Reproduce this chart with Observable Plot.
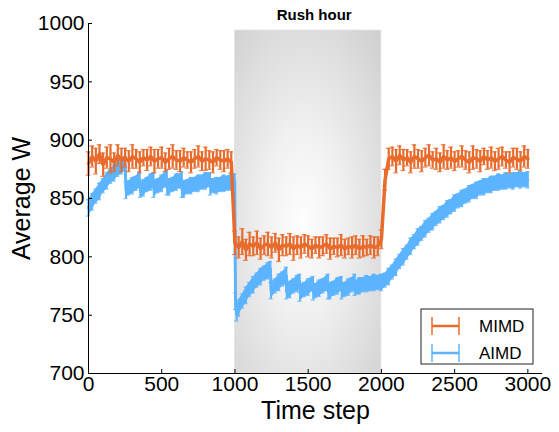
<!DOCTYPE html>
<html>
<head>
<meta charset="utf-8">
<script src="https://cdn.jsdelivr.net/npm/d3@7"></script>
<script src="https://cdn.jsdelivr.net/npm/@observablehq/plot@0.6"></script>
<style>
  html, body { margin: 0; padding: 0; background: white; }
  svg { display: block; }
</style>
</head>
<body>
<div id="chart"></div>
<script>
// ---------- data ----------
const xTicks = [0, 500, 1000, 1500, 2000, 2500, 3000];
const yTicks = [700, 750, 800, 850, 900, 950, 1000];
const seriesNames = ["MIMD", "AIMD"];
const rushLabel = "Rush hour";
const rushStart = 1000;
const rushEnd = 2000;
const rushTop = 994;
const xLabel = "Time step";
const yLabel = "Average W";

// MIMD sampled every 25 time steps (0..3000)
const mimdTime = d3.range(0, 3001, 25);
const mimdMean = [
  880, 886, 882, 888, 879, 885, 884, 881, 887, 883, 885, 882, 886, 884, 881, 885, 883, 886, 882, 884,
  885, 881, 884, 886, 883, 882, 885, 883, 881, 884, 886, 882, 884, 883, 881, 885, 883, 882, 884, 881,
  812, 808, 813, 806, 811, 809, 812, 807, 810, 811, 808, 812, 806, 810, 809, 811, 807, 810, 808, 811,
  809, 807, 810, 808, 809, 811, 807, 809, 808, 810, 807, 809, 808, 810, 807, 809, 808, 810, 808, 809,
  815, 866,
  884, 886, 882, 887, 883, 885, 881, 886, 884, 882, 885, 887, 883, 884, 881, 886, 883, 885, 882, 884,
  886, 883, 881, 885, 884, 882, 886, 883, 885, 882, 884, 886, 883, 881, 885, 884, 882, 886, 884
];
const mimdErr = [
  10, 9, 11, 8, 10, 9, 12, 8, 9, 10, 8, 9, 10, 8, 9, 7, 9, 8, 10, 8,
  9, 8, 9, 10, 8, 9, 8, 7, 9, 8, 9, 8, 10, 8, 9, 7, 8, 9, 8, 9,
  10, 9, 11, 9, 10, 8, 10, 9, 8, 10, 9, 8, 10, 9, 8, 9, 10, 8, 9, 8,
  9, 8, 7, 9, 8, 8, 9, 7, 8, 9, 8, 7, 9, 8, 8, 9, 7, 8, 9, 8,
  8, 9,
  9, 8, 10, 8, 9, 7, 9, 10, 8, 9, 8, 9, 7, 9, 8, 10, 8, 9, 8, 7,
  9, 8, 9, 10, 8, 9, 7, 8, 9, 8, 9, 8, 7, 9, 8, 9, 8, 9, 8
];

// AIMD: [time step, mean, error]
const aimd = [
  [0,842,7],[25,847,7],[50,852,6],[75,856,7],[100,861,6],[125,865,7],[150,869,6],[175,872,7],[200,875,6],[225,878,7],[250,880,6],
  [256,857,7],[275,859,6],[300,861,7],[325,863,6],[350,866,7],
  [354,857,6],[375,859,7],[400,862,6],[425,864,7],[444,866,6],
  [446,858,7],[475,861,6],[500,863,7],[525,866,6],[535,867,7],
  [537,859,6],[550,860,7],[575,862,6],[600,864,7],[625,865,6],[637,866,7],
  [639,857,6],[650,858,7],[675,860,6],[700,861,7],[725,862,6],[750,863,7],[775,864,6],[800,865,7],[830,866,6],
  [832,860,7],[850,861,6],[875,861,7],[900,862,6],[925,863,7],[950,863,6],[975,864,7],[998,865,6],
  [1004,762,7],[1012,751,6],[1025,756,7],[1050,762,6],[1075,767,7],[1100,772,6],[1125,776,7],[1150,780,6],[1175,783,7],[1200,786,6],[1225,788,7],[1242,790,6],
  [1246,771,7],[1275,775,6],[1300,778,7],[1325,781,6],[1351,784,7],
  [1353,770,6],[1375,772,7],[1400,775,6],[1425,777,7],[1442,779,6],
  [1444,769,7],[1475,772,6],[1500,774,7],[1533,777,6],
  [1535,770,7],[1550,771,6],[1575,773,7],[1600,775,6],[1636,778,7],
  [1638,770,6],[1650,771,7],[1675,773,6],[1700,775,7],[1727,777,6],
  [1729,771,7],[1750,772,6],[1775,774,7],[1800,776,6],[1818,778,7],
  [1820,773,6],[1850,775,7],[1875,776,6],[1900,777,7],[1925,777,6],[1950,778,7],[1975,778,6],[2000,778,7],
  [2025,780,6],[2050,783,7],[2075,787,6],[2100,791,7],[2125,796,6],[2150,800,7],[2175,804,6],[2200,809,7],[2225,813,6],[2250,817,7],
  [2275,820,6],[2300,824,7],[2325,827,6],[2350,830,7],[2375,833,6],[2400,836,7],[2425,838,6],[2450,841,7],[2475,843,6],[2500,846,7],
  [2525,848,6],[2550,850,7],[2575,852,6],[2600,854,7],[2625,856,6],[2650,857,7],[2675,859,6],[2700,860,7],[2725,861,6],[2750,862,7],
  [2775,863,6],[2800,864,7],[2825,864,6],[2850,865,7],[2875,865,6],[2900,865,7],[2925,866,6],[2950,866,7],[2975,866,6],[3000,866,7]
];

// ---------- styles ----------
const colors = { MIMD: "#E86B2C", AIMD: "#5CB4FF" };
const font = "'Liberation Sans', Arial, Helvetica, sans-serif";

const mimd = mimdTime.map((t, i) => ({ t, m: mimdMean[i], e: mimdErr[i] }));
const aimdRows = aimd.map(([t, m, e]) => ({ t, m, e }));
const rush = [{ x1: rushStart, x2: rushEnd, y1: yTicks[0], y2: rushTop }];
const fmt = d3.format("d");

const chart = Plot.plot({
  width: 559,
  height: 432,
  marginLeft: 88,
  marginRight: 17,
  marginTop: 23,
  marginBottom: 59,
  x: { domain: [0, 3100] },
  y: { domain: [700, 1000] },
  style: { fontFamily: font, background: "white", color: "black" },
  marks: [
    Plot.rect(rush, { x1: "x1", x2: "x2", y1: "y1", y2: "y2", fill: "url(#rushGrad)", stroke: "#e4e4e4", strokeWidth: 0.8 }),
    Plot.text([rushLabel], { x: (rushStart + rushEnd) / 2, y: 1000, text: d => d, dy: -8, dx: 6, fontSize: 15, fontWeight: "bold" }),
    // AIMD
    Plot.areaY(aimdRows, { x: "t", y1: d => d.m - d.e, y2: d => d.m + d.e, fill: colors.AIMD }),
    Plot.ruleX(aimdRows, { x: "t", y1: d => d.m - d.e, y2: d => d.m + d.e, stroke: colors.AIMD, strokeWidth: 2 }),
    Plot.ruleY(aimdRows, { y: d => d.m + d.e, x1: d => d.t - 14, x2: d => d.t + 14, stroke: colors.AIMD, strokeWidth: 1.3, strokeOpacity: 0.8 }),
    Plot.ruleY(aimdRows, { y: d => d.m - d.e, x1: d => d.t - 14, x2: d => d.t + 14, stroke: colors.AIMD, strokeWidth: 1.3, strokeOpacity: 0.8 }),
    Plot.line(aimdRows, { x: "t", y: "m", stroke: colors.AIMD, strokeWidth: 3 }),
    // MIMD
    Plot.ruleX(mimd, { x: "t", y1: d => d.m - d.e, y2: d => d.m + d.e, stroke: colors.MIMD, strokeWidth: 2.2 }),
    Plot.ruleY(mimd, { y: d => d.m + d.e, x1: d => d.t - 16, x2: d => d.t + 16, stroke: colors.MIMD, strokeWidth: 1.2, strokeOpacity: 0.85 }),
    Plot.ruleY(mimd, { y: d => d.m - d.e, x1: d => d.t - 16, x2: d => d.t + 16, stroke: colors.MIMD, strokeWidth: 1.2, strokeOpacity: 0.85 }),
    Plot.line(mimd, { x: "t", y: "m", stroke: colors.MIMD, strokeWidth: 3.5 }),
    // axes
    Plot.ruleY([700], { stroke: "black", strokeWidth: 1 }),
    Plot.ruleX([0], { stroke: "black", strokeWidth: 1 }),
    Plot.axisX(xTicks, { tickSize: 0, tickPadding: 3, fontSize: 21, label: null, tickFormat: fmt }),
    Plot.axisX(xTicks, { tickSize: -4, text: null, label: null }),
    Plot.axisY(yTicks, { tickSize: 0, tickPadding: 4, fontSize: 21, label: null, tickFormat: fmt }),
    Plot.axisY(yTicks, { tickSize: -4, text: null, label: null }),
    Plot.text([xLabel], { frameAnchor: "bottom", lineAnchor: "middle", textAnchor: "middle", dy: 37, text: d => d, fontSize: 25 }),
    Plot.text([yLabel], { frameAnchor: "left", lineAnchor: "middle", textAnchor: "middle", dx: -67, text: d => d, rotate: -90, fontSize: 25 })
  ]
});

// gradient for the rush hour window
const svgSel = d3.select(chart);
const grad = svgSel.insert("defs", ":first-child")
  .append("radialGradient")
  .attr("id", "rushGrad")
  .attr("cx", 0.47).attr("cy", 0.56).attr("r", 0.75);
grad.append("stop").attr("offset", "0%").attr("stop-color", "#fefefe");
grad.append("stop").attr("offset", "35%").attr("stop-color", "#f1f1f1");
grad.append("stop").attr("offset", "100%").attr("stop-color", "#d0d0d0");

// legend
const lg = svgSel.append("g").attr("font-family", font).attr("text-anchor", "start");
lg.append("rect")
  .attr("x", 421).attr("y", 309).attr("width", 112).attr("height", 55)
  .attr("fill", "white").attr("stroke", "#222").attr("stroke-width", 1);
seriesNames.forEach((name, i) => {
  const cy = 326 + i * 27;
  const c = colors[name];
  const g = lg.append("g");
  g.append("line").attr("x1", 432).attr("x2", 459).attr("y1", cy).attr("y2", cy).attr("stroke", c).attr("stroke-width", 2.5);
  g.append("line").attr("x1", 432).attr("x2", 432).attr("y1", cy - 9).attr("y2", cy + 9).attr("stroke", c).attr("stroke-width", 1.5);
  g.append("line").attr("x1", 459).attr("x2", 459).attr("y1", cy - 9).attr("y2", cy + 9).attr("stroke", c).attr("stroke-width", 1.5);
  g.append("text").attr("x", 479).attr("y", cy + 6).attr("font-size", 17).attr("fill", "black").attr("text-anchor", "start").text(name);
});

document.getElementById("chart").appendChild(chart);
</script>
</body>
</html>
